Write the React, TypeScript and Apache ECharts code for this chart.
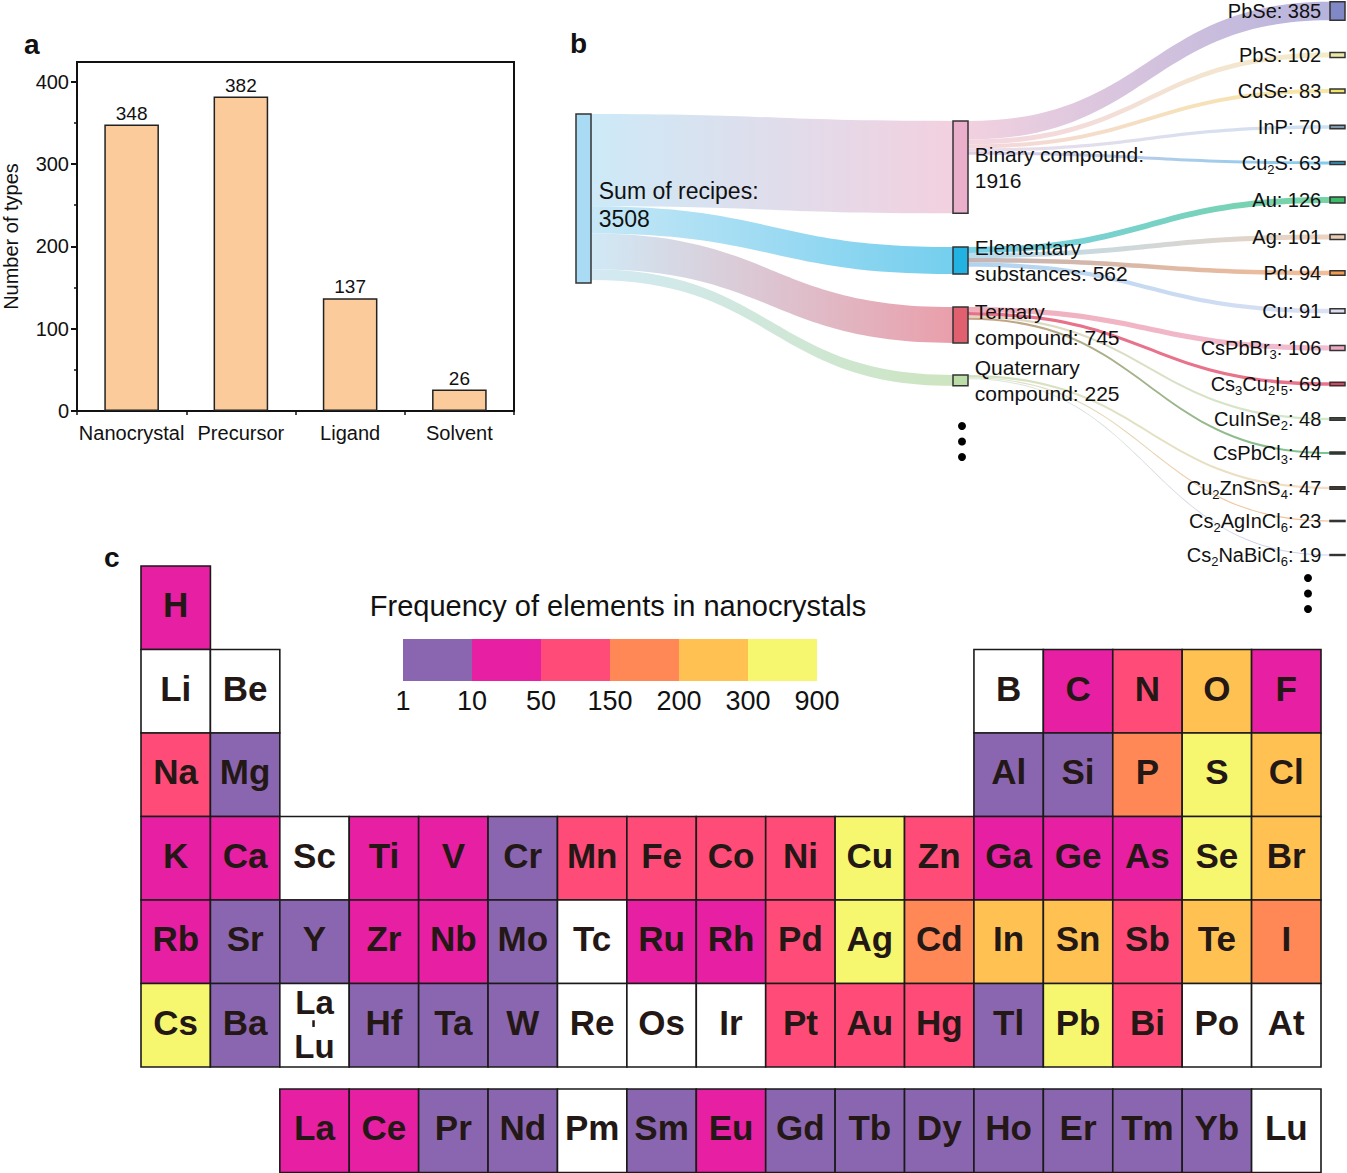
import React, { useEffect, useRef } from "react";
import * as echarts from "echarts";

const FONT = '"Liberation Sans", Arial, sans-serif';

// ---------- Panel a : bar chart ----------
const barCategories = ["Nanocrystal", "Precursor", "Ligand", "Solvent"];
const barValues = [348, 382, 137, 26];
const barAxisTicks = [0, 100, 200, 300, 400];
const barAxisMax = 424;

// ---------- Panel b : sankey ----------
const rootName = "Sum of recipes";
const rootValue = 3508;
const level1Names = ["Binary compound", "Elementary substances", "Ternary compound", "Quaternary compound"];
const level1Values = [1916, 562, 745, 225];
const level1Labels = ["Binary compound:\n{v}", "Elementary\nsubstances: {v}", "Ternary\ncompound: {v}", "Quaternary\ncompound: {v}"];
const level2Names = ["PbSe", "PbS", "CdSe", "InP", "Cu2S", "Au", "Ag", "Pd", "Cu", "CsPbBr3", "Cs3Cu2I5", "CuInSe2", "CsPbCl3", "Cu2ZnSnS4", "Cs2AgInCl6", "Cs2NaBiCl6"];
const level2Values = [385, 102, 83, 70, 63, 126, 101, 94, 91, 106, 69, 48, 44, 47, 23, 19];
const level2Parents = [0, 0, 0, 0, 0, 1, 1, 1, 1, 2, 2, 2, 2, 3, 3, 3];

// sankey styles / layout (kept apart from data)
const rootColor = "#A9DCF4";
const level1Colors = ["#EAB0CB", "#22B3E2", "#E06070", "#BCDDA8"];
const level2Colors = ["#8088C6", "#EDE7A6", "#F3E46A", "#7D98AC", "#2F9CCB", "#3DBA6A", "#EBCDB5", "#F29A4E", "#DCDCF2", "#EEA8C6", "#E0405E", "#4D5A48", "#234A30", "#4A3E30", "#3E3630", "#404048"];
const rootLinkColors = [["#C4E6F6", "#F0C8DA"], ["#BCE3F5", "#5CC6EB"], ["#C8E6F4", "#E58E9C"], ["#CBE6F2", "#C4E0B4"]];
const level2LinkColors = [
  ["#EFC9DA", "#A9A6D6"], ["#F1CEDC", "#F1E9BE"], ["#F1D0D8", "#F6E394"], ["#EAD6E4", "#C4DCF0"], ["#DCC6E4", "#6EC2E8"],
  ["#62C9E6", "#5FCB92"], ["#A9D7EC", "#EACAB4"], ["#B9A8A8", "#F2B186"], ["#A2CBEC", "#D7DCF2"],
  ["#EDA0B0", "#F0B2C8"], ["#E35874", "#E45C78"], ["#DCCDB5", "#C9E6C0"], ["#C0906E", "#62BC7C"],
  ["#C8DDB8", "#F4D8B8"], ["#D4E2C6", "#F4B07E"], ["#D6E4CE", "#C4C4EC"],
];
const sankeyLeft = 576, sankeyTop = 114, sankeyWidth = 769, sankeyHeight = 169;
const level1Tops = [121, 247, 307, 375];
const level2Centers = [11, 55, 91, 127, 163, 200, 237, 273, 311, 348, 384, 419, 453, 488, 521, 555];

// ---------- Panel c : periodic table ----------
const tableRows = [
  ["H"],
  ["Li", "Be", "", "", "", "", "", "", "", "", "", "", "B", "C", "N", "O", "F"],
  ["Na", "Mg", "", "", "", "", "", "", "", "", "", "", "Al", "Si", "P", "S", "Cl"],
  ["K", "Ca", "Sc", "Ti", "V", "Cr", "Mn", "Fe", "Co", "Ni", "Cu", "Zn", "Ga", "Ge", "As", "Se", "Br"],
  ["Rb", "Sr", "Y", "Zr", "Nb", "Mo", "Tc", "Ru", "Rh", "Pd", "Ag", "Cd", "In", "Sn", "Sb", "Te", "I"],
  ["Cs", "Ba", "La-Lu", "Hf", "Ta", "W", "Re", "Os", "Ir", "Pt", "Au", "Hg", "Tl", "Pb", "Bi", "Po", "At"],
  ["", "", "La", "Ce", "Pr", "Nd", "Pm", "Sm", "Eu", "Gd", "Tb", "Dy", "Ho", "Er", "Tm", "Yb", "Lu"],
];
const rowPositions = [0, 1, 2, 3, 4, 5, 6.263];
const elementSymbols = [
  "H", "Li", "Be", "B", "C", "N", "O", "F",
  "Na", "Mg", "Al", "Si", "P", "S", "Cl",
  "K", "Ca", "Sc", "Ti", "V", "Cr", "Mn", "Fe", "Co", "Ni", "Cu", "Zn", "Ga", "Ge", "As", "Se", "Br",
  "Rb", "Sr", "Y", "Zr", "Nb", "Mo", "Tc", "Ru", "Rh", "Pd", "Ag", "Cd", "In", "Sn", "Sb", "Te", "I",
  "Cs", "Ba", "La-Lu", "Hf", "Ta", "W", "Re", "Os", "Ir", "Pt", "Au", "Hg", "Tl", "Pb", "Bi", "Po", "At",
  "La", "Ce", "Pr", "Nd", "Pm", "Sm", "Eu", "Gd", "Tb", "Dy", "Ho", "Er", "Tm", "Yb", "Lu",
];
const elementFreq = [
  25, 0, 0, 0, 30, 70, 240, 20,
  90, 4, 6, 5, 170, 520, 260,
  20, 12, 0, 35, 14, 6, 95, 130, 80, 75, 480, 140, 28, 40, 18, 760, 270,
  18, 4, 3, 22, 12, 8, 0, 16, 14, 110, 380, 190, 250, 230, 65, 210, 175,
  340, 6, 0, 3, 4, 7, 0, 0, 0, 85, 140, 60, 5, 850, 75, 0, 0,
  18, 22, 3, 5, 0, 4, 16, 6, 3, 3, 2, 4, 2, 5, 0,
];
const legendBreaks = [1, 10, 50, 150, 200, 300, 900];
const legendColors = ["#8A66B0", "#E61FA3", "#FF4B78", "#FF8856", "#FFC252", "#F7F76F"];
const legendTitle = "Frequency of elements in nanocrystals";

function freqColor(v: number) {
  if (!(v >= legendBreaks[0])) return "#FFFFFF";
  for (let i = legendColors.length - 1; i >= 0; i--) {
    if (v >= legendBreaks[i]) return legendColors[i];
  }
  return "#FFFFFF";
}

function grad(c: string[]) {
  return new echarts.graphic.LinearGradient(0, 0, 1, 0, [
    { offset: 0, color: c[0] },
    { offset: 1, color: c[1] },
  ]);
}

function toRich(name: string) {
  return name.replace(/(\d+)/g, "{s|$1}");
}

function buildOption() {
  const ky = sankeyHeight / rootValue;
  const nodes: any[] = [
    {
      name: rootName,
      value: rootValue,
      localY: 0,
      itemStyle: { color: rootColor },
      label: { position: "right", distance: 7, formatter: `${rootName}:\n${rootValue}`, fontSize: 23, lineHeight: 28, offset: [0, 6] },
    },
    ...level1Names.map((n, i) => ({
      name: n,
      localY: (level1Tops[i] - sankeyTop) / sankeyHeight,
      itemStyle: { color: level1Colors[i] },
      label: { position: "right", distance: 6, formatter: level1Labels[i].replace("{v}", String(level1Values[i])), fontSize: 21, lineHeight: 26 },
    })),
    ...level2Names.map((n, i) => ({
      name: n,
      localY: (level2Centers[i] - (level2Values[i] * ky) / 2 - sankeyTop) / sankeyHeight,
      itemStyle: { color: level2Colors[i] },
      label: {
        position: "left",
        distance: 8,
        formatter: toRich(n) + ": " + level2Values[i],
        fontSize: 20,
        lineHeight: 26,
        rich: { s: { fontSize: 13, lineHeight: 12, verticalAlign: "bottom", fontFamily: FONT, color: "#111" } },
      },
    })),
  ];
  const links: any[] = [
    ...level1Names.map((n, i) => ({ source: rootName, target: n, value: level1Values[i], lineStyle: { color: grad(rootLinkColors[i]) } })),
    ...level2Names.map((n, i) => ({ source: level1Names[level2Parents[i]], target: n, value: level2Values[i], lineStyle: { color: grad(level2LinkColors[i]) } })),
  ];

  const cellSyms: string[] = [];
  const cells: any[] = [];
  tableRows.forEach((row, r) => {
    row.forEach((sym, c) => {
      if (!sym) return;
      const idx = elementSymbols.indexOf(sym, r === 6 ? elementSymbols.indexOf("La-Lu") + 1 : 0);
      cellSyms.push(sym);
      cells.push([c, rowPositions[r], elementFreq[idx]]);
    });
  });

  const cellText = (text: string, x: number, y: number, size: number) => ({
    type: "text",
    style: {
      text,
      x,
      y,
      align: "center",
      verticalAlign: "middle",
      fill: "#231815",
      fontSize: size,
      fontWeight: "bold",
      fontFamily: FONT,
    },
  });

  const renderCell = (params: any, api: any) => {
    const col = api.value(0);
    const row = api.value(1);
    const v = api.value(2);
    const p0 = api.coord([col, row]);
    const p1 = api.coord([col + 1, row + 1]);
    const x = Math.min(p0[0], p1[0]);
    const y = Math.min(p0[1], p1[1]);
    const w = Math.abs(p1[0] - p0[0]);
    const h = Math.abs(p1[1] - p0[1]);
    const sym = cellSyms[params.dataIndex];
    const children: any[] = [
      { type: "rect", shape: { x, y, width: w, height: h }, style: { fill: freqColor(v), stroke: "#1A1A1A", lineWidth: 1.6 } },
    ];
    if (sym === "La-Lu") {
      children.push(cellText("La", x + w / 2, y + h * 0.225, 33));
      children.push({
        type: "line",
        shape: { x1: x + w / 2 - 1, y1: y + h * 0.44, x2: x + w / 2 - 1, y2: y + h * 0.52 },
        style: { stroke: "#231815", lineWidth: 2.5 },
      });
      children.push(cellText("Lu", x + w / 2, y + h * 0.76, 33));
    } else {
      children.push(cellText(sym, x + w / 2, y + h / 2 - 3, 35));
    }
    return { type: "group", children };
  };

  const txt = (text: string, x: number, y: number, size: number, bold: boolean, align = "left") => ({
    type: "text",
    x,
    y,
    style: {
      text,
      fill: "#111",
      font: `${bold ? "bold " : ""}${size}px ${FONT}`,
      align,
      verticalAlign: "middle",
      textAlign: align,
      textVerticalAlign: "middle",
    },
  });

  const graphics: any[] = [
    txt("a", 24, 44, 28, true),
    txt("b", 570, 43, 28, true),
    txt("c", 104, 557, 28, true),
    txt(legendTitle, 618, 606, 29, false, "center"),
    ...legendColors.map((c, i) => ({ type: "rect", shape: { x: 403 + i * 69, y: 639, width: 69, height: 42 }, style: { fill: c } })),
    ...legendBreaks.map((b, i) => txt(String(b), 403 + i * 69, 701, 27, false, "center")),
    ...[0, 1, 2].map((k) => ({ type: "circle", shape: { cx: 962, cy: 426 + k * 15.5, r: 4 }, style: { fill: "#000" } })),
    ...[0, 1, 2].map((k) => ({ type: "circle", shape: { cx: 1308, cy: 578 + k * 15.5, r: 4 }, style: { fill: "#000" } })),
  ];

  return {
    animation: false,
    backgroundColor: "#ffffff",
    textStyle: { fontFamily: FONT },
    grid: [
      { left: 77, top: 62, width: 437, height: 349, show: true, borderColor: "#111", borderWidth: 2, outerBoundsMode: "none", containLabel: false },
      { left: 141, top: 566, width: 1180, height: 606.5, outerBoundsMode: "none", containLabel: false },
    ],
    xAxis: [
      {
        gridIndex: 0,
        type: "category",
        data: barCategories,
        axisLine: { lineStyle: { color: "#111", width: 2 } },
        axisTick: { alignWithLabel: true, length: 7, lineStyle: { width: 2, color: "#111" } },
        axisLabel: { color: "#111", fontSize: 20, margin: 12, fontFamily: FONT, interval: 0, hideOverlap: false },
      },
      {
        gridIndex: 0,
        type: "category",
        position: "bottom",
        data: barCategories,
        axisLine: { show: false },
        axisTick: { show: true, length: 4, lineStyle: { width: 1.5, color: "#111" } },
        axisLabel: { show: false },
      },
      { gridIndex: 1, type: "value", min: 0, max: 17, show: false },
    ],
    yAxis: [
      {
        gridIndex: 0,
        type: "value",
        min: 0,
        max: barAxisMax,
        interval: 100,
        name: "Number of types",
        nameLocation: "middle",
        nameGap: 56,
        nameTextStyle: { fontSize: 20, color: "#111", fontFamily: FONT },
        axisLine: { show: true, lineStyle: { color: "#111", width: 2 } },
        axisTick: { show: true, length: 6, lineStyle: { width: 2, color: "#111" }, customValues: barAxisTicks },
        minorTick: { show: true, splitNumber: 2, length: 3, lineStyle: { color: "#111", width: 1.5 } },
        axisLabel: { fontSize: 20, color: "#111", margin: 8, customValues: barAxisTicks, fontFamily: FONT },
        splitLine: { show: false },
      },
      { gridIndex: 1, type: "value", min: 0, max: 7.263, inverse: true, show: false },
    ],
    series: [
      {
        type: "bar",
        xAxisIndex: 0,
        yAxisIndex: 0,
        data: barValues,
        barWidth: "50%",
        itemStyle: { color: "#FBCB9C", borderColor: "#222", borderWidth: 1.5 },
        label: { show: true, position: "top", fontSize: 19, color: "#111", distance: 2, fontFamily: FONT },
      },
      {
        type: "sankey",
        left: sankeyLeft,
        top: sankeyTop,
        width: sankeyWidth,
        height: sankeyHeight,
        nodeWidth: 15,
        nodeGap: 0.5,
        layoutIterations: 0,
        nodeAlign: "justify",
        draggable: false,
        emphasis: { disabled: true },
        itemStyle: { borderColor: "#333", borderWidth: 1.5 },
        lineStyle: { opacity: 0.85, curveness: 0.5 },
        label: { color: "#111", fontFamily: FONT },
        data: nodes,
        links,
      },
      {
        type: "custom",
        xAxisIndex: 2,
        yAxisIndex: 1,
        data: cells,
        clip: false,
        renderItem: renderCell,
      },
    ],
    graphic: graphics,
  };
}

export default function App() {
  const ref = useRef<HTMLDivElement>(null);
  useEffect(() => {
    const chart = echarts.init(ref.current as HTMLDivElement, null, { renderer: "svg" });
    chart.setOption(buildOption() as any);
    return () => chart.dispose();
  }, []);
  return (
    <div
      ref={ref}
      style={{ position: "absolute", left: 0, top: 0, width: 1347, height: 1173, background: "#fff" }}
    />
  );
}
